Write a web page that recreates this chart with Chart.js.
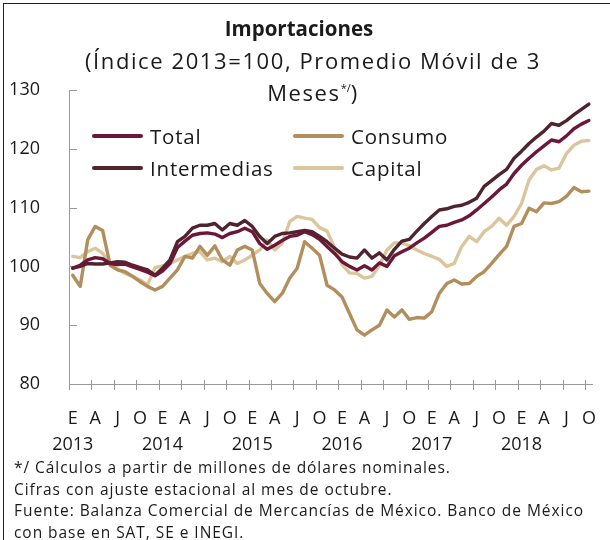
<!DOCTYPE html>
<html>
<head>
<meta charset="utf-8">
<script src="https://cdn.jsdelivr.net/npm/chart.js@4.4.1/dist/chart.umd.min.js"></script>
<style>
body { margin: 0; background: #fff; font-family: "Open Sans", sans-serif; color: #1a1a1a; }
#wrap { position: relative; width: 610px; height: 540px; overflow: hidden; }
#frame { position: absolute; left: 3px; top: 3px; right: -2px; bottom: -2px; border-left: 1px solid #222; border-top: 1px solid #222; }
canvas { position: absolute; left: 0; top: 0; }
.head { position: absolute; width: 610px; text-align: center; }
#t1 { top: 14px; left: -6px; font-size: 20.5px; font-weight: bold; line-height: 28px; }
#t2 { top: 46px; left: 8px; font-size: 22px; letter-spacing: 1.6px; line-height: 28px; }
#t2 sup { font-size: 11px; letter-spacing: 0; vertical-align: 9px; }
#legend { position: absolute; left: 92px; top: 120px; display: grid; grid-template-columns: 201px auto; grid-template-rows: 32px 32px; grid-auto-flow: column; font-size: 20.5px; letter-spacing: 0.8px; }
#legend div { display: flex; align-items: center; }
#legend span.ln { display: inline-block; width: 51px; height: 3.5px; margin-right: 7px; border-radius: 2px; }
#notes { position: absolute; left: 14px; top: 457px; font-size: 15.5px; letter-spacing: 0.95px; line-height: 21.5px; }
</style>
</head>
<body>
<div id="wrap">
  <canvas id="myChart" width="610" height="540"></canvas>
  <div id="frame"></div>
  <div class="head" id="t1">Importaciones</div>
  <div class="head" id="t2">(Índice 2013=100, Promedio Móvil de 3<br>Meses<sup>*/</sup>)</div>
  <div id="legend"></div>
  <div id="notes">*/ Cálculos a partir de millones de dólares nominales.<br>Cifras con ajuste estacional al mes de octubre.<br>Fuente: Balanza Comercial de Mercancías de México. Banco de México<br>con base en SAT, SE e INEGI.</div>
</div>
<script>
// meses ene-2013 a oct-2018
const years = ['2013', '2014', '2015', '2016', '2017', '2018'];
const quarterLetters = ['E', 'A', 'J', 'O'];
let months = [];
years.forEach(y => { for (let m = 1; m <= 12; m++) months.push(y + '-' + m); });
months = months.slice(0, 70);

const total = [
    99.7, 100.2, 101.1, 101.5, 101.3, 100.5, 100.3, 100.4, 99.9, 99.5, 99.0, 98.4,
    99.2, 100.5, 103.2, 104.3, 105.3, 105.6, 105.7, 105.5, 104.9, 105.6, 105.9, 106.5,
    105.9, 103.9, 102.9, 103.6, 104.4, 105.1, 105.3, 105.9, 105.4, 104.6, 103.4, 102.2,
    100.8, 100.0, 99.4, 100.1, 99.4, 100.6, 100.0, 101.8, 102.5, 103.1, 104.0, 104.8,
    105.8, 106.8, 107.0, 107.5, 107.9, 108.6, 109.6, 110.7, 111.8, 113.0, 114.0, 115.8,
    117.2, 118.4, 119.5, 120.5, 121.5, 121.2, 122.2, 123.4, 124.2, 124.8
];
const intermedias = [
    99.7, 100.0, 100.5, 100.4, 100.4, 100.6, 100.8, 100.7, 100.2, 99.8, 99.4, 98.5,
    99.7, 101.1, 104.2, 105.1, 106.5, 107.0, 107.0, 107.3, 106.2, 107.3, 107.0, 107.8,
    106.8, 105.1, 103.9, 105.1, 105.6, 105.7, 105.9, 106.1, 105.9, 105.1, 104.2, 103.1,
    102.1, 101.6, 101.4, 102.8, 101.4, 102.3, 101.1, 102.9, 104.3, 104.6, 106.0, 107.3,
    108.5, 109.6, 109.8, 110.2, 110.4, 110.9, 111.6, 113.6, 114.6, 115.6, 116.5, 118.4,
    119.6, 120.9, 122.0, 123.0, 124.3, 124.0, 124.8, 125.8, 126.7, 127.6
];
const consumo = [
    98.5, 96.6, 104.5, 106.8, 106.1, 100.2, 99.4, 99.1, 98.3, 97.4, 96.6, 96.0,
    96.6, 98.0, 99.4, 101.7, 101.4, 103.4, 101.9, 103.5, 101.1, 100.2, 102.8, 103.4,
    102.8, 97.1, 95.4, 94.0, 95.4, 98.0, 99.7, 104.2, 103.1, 101.9, 96.8, 96.0,
    94.8, 92.0, 89.2, 88.3, 89.2, 90.0, 92.6, 91.4, 92.6, 91.0, 91.3, 91.2,
    92.3, 95.4, 97.1, 97.7, 97.0, 97.1, 98.3, 99.1, 100.5, 102.0, 103.4, 106.8,
    107.3, 109.9, 109.3, 110.8, 110.7, 111.0, 111.9, 113.4, 112.7, 112.8
];
const capital = [
    101.7, 101.5, 102.5, 103.1, 102.2, 100.5, 99.5, 98.8, 98.3, 97.7, 96.9, 99.8,
    100.1, 100.5, 101.1, 101.7, 102.2, 102.5, 101.1, 101.4, 100.8, 101.7, 100.5, 101.1,
    101.9, 102.8, 104.5, 102.8, 103.9, 107.6, 108.5, 108.2, 108.0, 106.6, 106.0, 103.2,
    100.3, 98.9, 98.8, 98.0, 98.3, 100.2, 102.8, 104.0, 104.0, 103.5, 102.8, 102.2,
    101.7, 101.2, 100.0, 100.5, 103.4, 105.1, 104.2, 105.9, 106.8, 108.2, 107.0, 108.5,
    110.7, 114.7, 116.5, 117.1, 116.4, 116.7, 119.2, 120.6, 121.3, 121.4
];

const axisGray = '#9a9a9a';

// marcas de eje hacia dentro (y) y cruzando el eje (x)
const tickMarks = {
    id: 'tickMarks',
    beforeDatasetsDraw(chart) {
        const ctx = chart.ctx;
        const x = chart.scales.x, y = chart.scales.y;
        ctx.save();
        ctx.strokeStyle = axisGray;
        ctx.lineWidth = 1;
        ctx.beginPath();
        for (let i = 0; i < months.length; i += 3) {
            let px = i === 0 ? x.left : (x.getPixelForValue(i - 1) + x.getPixelForValue(i)) / 2;
            px = Math.round(px) + 0.5;
            ctx.moveTo(px, y.bottom - 4);
            ctx.lineTo(px, y.bottom + 6);
        }
        y.ticks.forEach(t => {
            const py = Math.round(y.getPixelForValue(t.value)) + 0.5;
            ctx.moveTo(x.left, py);
            ctx.lineTo(x.left + 8, py);
        });
        ctx.stroke();
        ctx.restore();
    }
};

const ctx = document.getElementById('myChart');
const myChart = new Chart(ctx, {
    type: 'line',
    data: {
        labels: months,
        datasets: [
            { label: 'Total', data: total, borderColor: '#6c1737' },
            { label: 'Intermedias', data: intermedias, borderColor: '#50242f' },
            { label: 'Consumo', data: consumo, borderColor: '#b38e5d' },
            { label: 'Capital', data: capital, borderColor: '#dac59d' }
        ]
    },
    options: {
        responsive: false,
        animation: false,
        layout: { padding: { top: 90, right: 17, bottom: 86, left: 0 } },
        elements: {
            point: { radius: 0 },
            line: { borderWidth: 3.4, tension: 0, borderCapStyle: 'round', borderJoinStyle: 'round' }
        },
        plugins: {
            legend: { display: false },
            tooltip: { enabled: false }
        },
        scales: {
            x: {
                offset: true,
                grid: { display: false },
                border: { color: axisGray },
                afterFit: s => { s.height = 70; },
                ticks: {
                    autoSkip: false,
                    maxRotation: 0,
                    padding: 14,
                    color: '#1a1a1a',
                    font: { family: 'Open Sans', size: 18, lineHeight: 1.45 },
                    callback: function (val, i) {
                        if (i % 3 !== 0) return null;
                        const letter = quarterLetters[(i % 12) / 3];
                        return i % 12 === 0 ? [letter, years[i / 12]] : letter;
                    }
                }
            },
            y: {
                min: 80,
                max: 130,
                grid: { display: false },
                border: { color: axisGray },
                afterFit: s => { s.width = 69; },
                ticks: {
                    stepSize: 10,
                    padding: 21,
                    color: '#1a1a1a',
                    font: { family: 'Open Sans', size: 18 }
                }
            }
        }
    },
    plugins: [tickMarks]
});

// leyenda en dos columnas
let text = '';
myChart.data.datasets.forEach(ds => {
    text += '<div><span class="ln" style="background:' + ds.borderColor + '"></span>' + ds.label + '</div>';
});
document.getElementById('legend').innerHTML = text;
</script>
</body>
</html>
